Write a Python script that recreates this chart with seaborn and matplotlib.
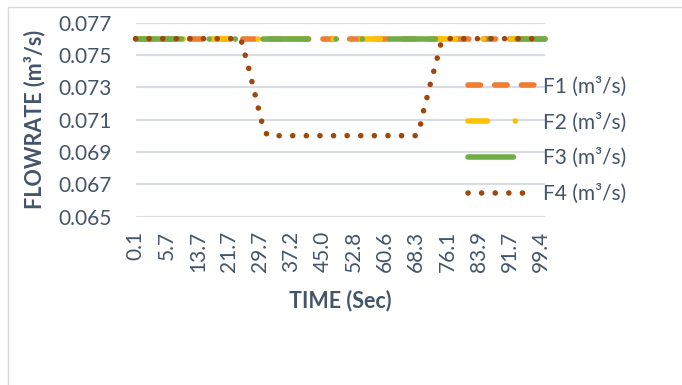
import matplotlib
matplotlib.use("Agg")
import matplotlib.pyplot as plt
from matplotlib.patches import Rectangle
import seaborn as sns
import pandas as pd

# ---- data -----------------------------------------------------------------
# Time categories (s) shown on the axis, one label every 8 samples
time_labels = ["0.1", "5.7", "13.7", "21.7", "29.7", "37.2", "45.0",
               "52.8", "60.6", "68.3", "76.1", "83.9", "91.7", "99.4"]
label_every = 8
n_samples = 106

series_names = ["F1 (m³/s)", "F2 (m³/s)", "F3 (m³/s)", "F4 (m³/s)"]

f1 = [0.076] * n_samples
f2 = [0.076] * n_samples
f3 = [0.076] * n_samples
f4 = ([0.076] * 27
      + [0.076, 0.0751, 0.0742, 0.0732, 0.0722, 0.0712, 0.0703, 0.070]
      + [0.070] * 37
      + [0.070, 0.0706, 0.0717, 0.0726, 0.0736, 0.0744, 0.0755, 0.076]
      + [0.076] * 26)

y_ticks = [0.065, 0.067, 0.069, 0.071, 0.073, 0.075, 0.077]

# ---- styling --------------------------------------------------------------
sns.set_style("white")
plt.rcParams["font.family"] = ["Lato", "DejaVu Sans"]
plt.rcParams["lines.scale_dashes"] = False

TEXT = "#44546A"
GRID = "#d9dde3"
colors = {series_names[0]: "#ED7D31", series_names[1]: "#FFC000",
          series_names[2]: "#70AD47", series_names[3]: "#9E480E"}

px = 0.72  # pixels -> points at 100 dpi
dashes = {
    series_names[0]: (12.44 * px, 14.26 * px),                          # dash
    series_names[1]: (19.44 * px, 27.78 * px, 0.1 * px, 27.68 * px),    # long dash dot
    series_names[2]: (45.44 * px, 27.78 * px, 0.1 * px, 25.9 * px,
                      0.1 * px, 27.68 * px),                            # long dash dot dot
    series_names[3]: (0.1 * px, 13.5 * px),                             # round dots
}

idx = list(range(n_samples))
frames = []
for name, vals in zip(series_names, [f1, f2, f3, f4]):
    frames.append(pd.DataFrame({"sample": idx, "flow": vals, "series": name}))
df = pd.concat(frames, ignore_index=True)

fig = plt.figure(figsize=(6.82, 3.85), dpi=100)
W, H = 682, 385
left_px, right_px, top_px, bottom_px = 135.5, 545.0, 22.5, 216.5
ax = fig.add_axes([left_px / W, 1 - bottom_px / H,
                   (right_px - left_px) / W, (bottom_px - top_px) / H])

# chart-area border (top and left edges visible)
fig.patches.append(Rectangle((8 / W, -0.2), 1.2, 1.2 - 7 / H,
                             transform=fig.transFigure, fill=False,
                             ec="#d9d9d9", lw=1.0))

sns.lineplot(data=df, x="sample", y="flow", hue="series", style="series",
             hue_order=series_names, style_order=series_names,
             palette=colors, dashes=dashes, linewidth=4.0,
             dash_capstyle="round", solid_capstyle="round",
             errorbar=None, legend=False, clip_on=False, ax=ax)

ax.set_xlim(0, n_samples - 1)
ax.set_ylim(0.065, 0.077)
ax.set_yticks(y_ticks)
ax.set_yticklabels([f"{v:.3f}" for v in y_ticks])
ax.set_xticks(list(range(0, label_every * len(time_labels), label_every)))
ax.set_xticklabels(time_labels, rotation=90)

ax.yaxis.grid(True, color=GRID, lw=1.6)
ax.xaxis.grid(False)
ax.set_axisbelow(True)
for s in ax.spines.values():
    s.set_visible(False)

ax.tick_params(axis="y", length=0, pad=17, labelsize=15, labelcolor=TEXT)
ax.tick_params(axis="x", length=0, pad=10.5, labelsize=15, labelcolor=TEXT)

ax.set_xlabel("TIME (Sec)", fontsize=15.5, fontweight="bold", color=TEXT)
ax.set_ylabel("FLOWRATE (m³/s)", fontsize=15.5, fontweight="bold", color=TEXT)
ax.xaxis.set_label_coords(0.5, (bottom_px - 301) / (bottom_px - top_px))
ax.xaxis.label.set_va("center")
ax.yaxis.set_label_coords((35 - left_px) / (right_px - left_px), 0.5)
ax.yaxis.label.set_va("center")

handles = ax.get_lines()[:4]
leg = ax.legend(handles, series_names, loc="upper left",
                bbox_to_anchor=(467.8 / W, 1 - 76.5 / H),
                bbox_transform=fig.transFigure, frameon=False,
                fontsize=15, handlelength=66.5 / 20.83, handletextpad=0.4,
                labelspacing=0.75, borderpad=0, borderaxespad=0)
for t in leg.get_texts():
    t.set_color(TEXT)

fig.savefig("out.png", dpi=100)
